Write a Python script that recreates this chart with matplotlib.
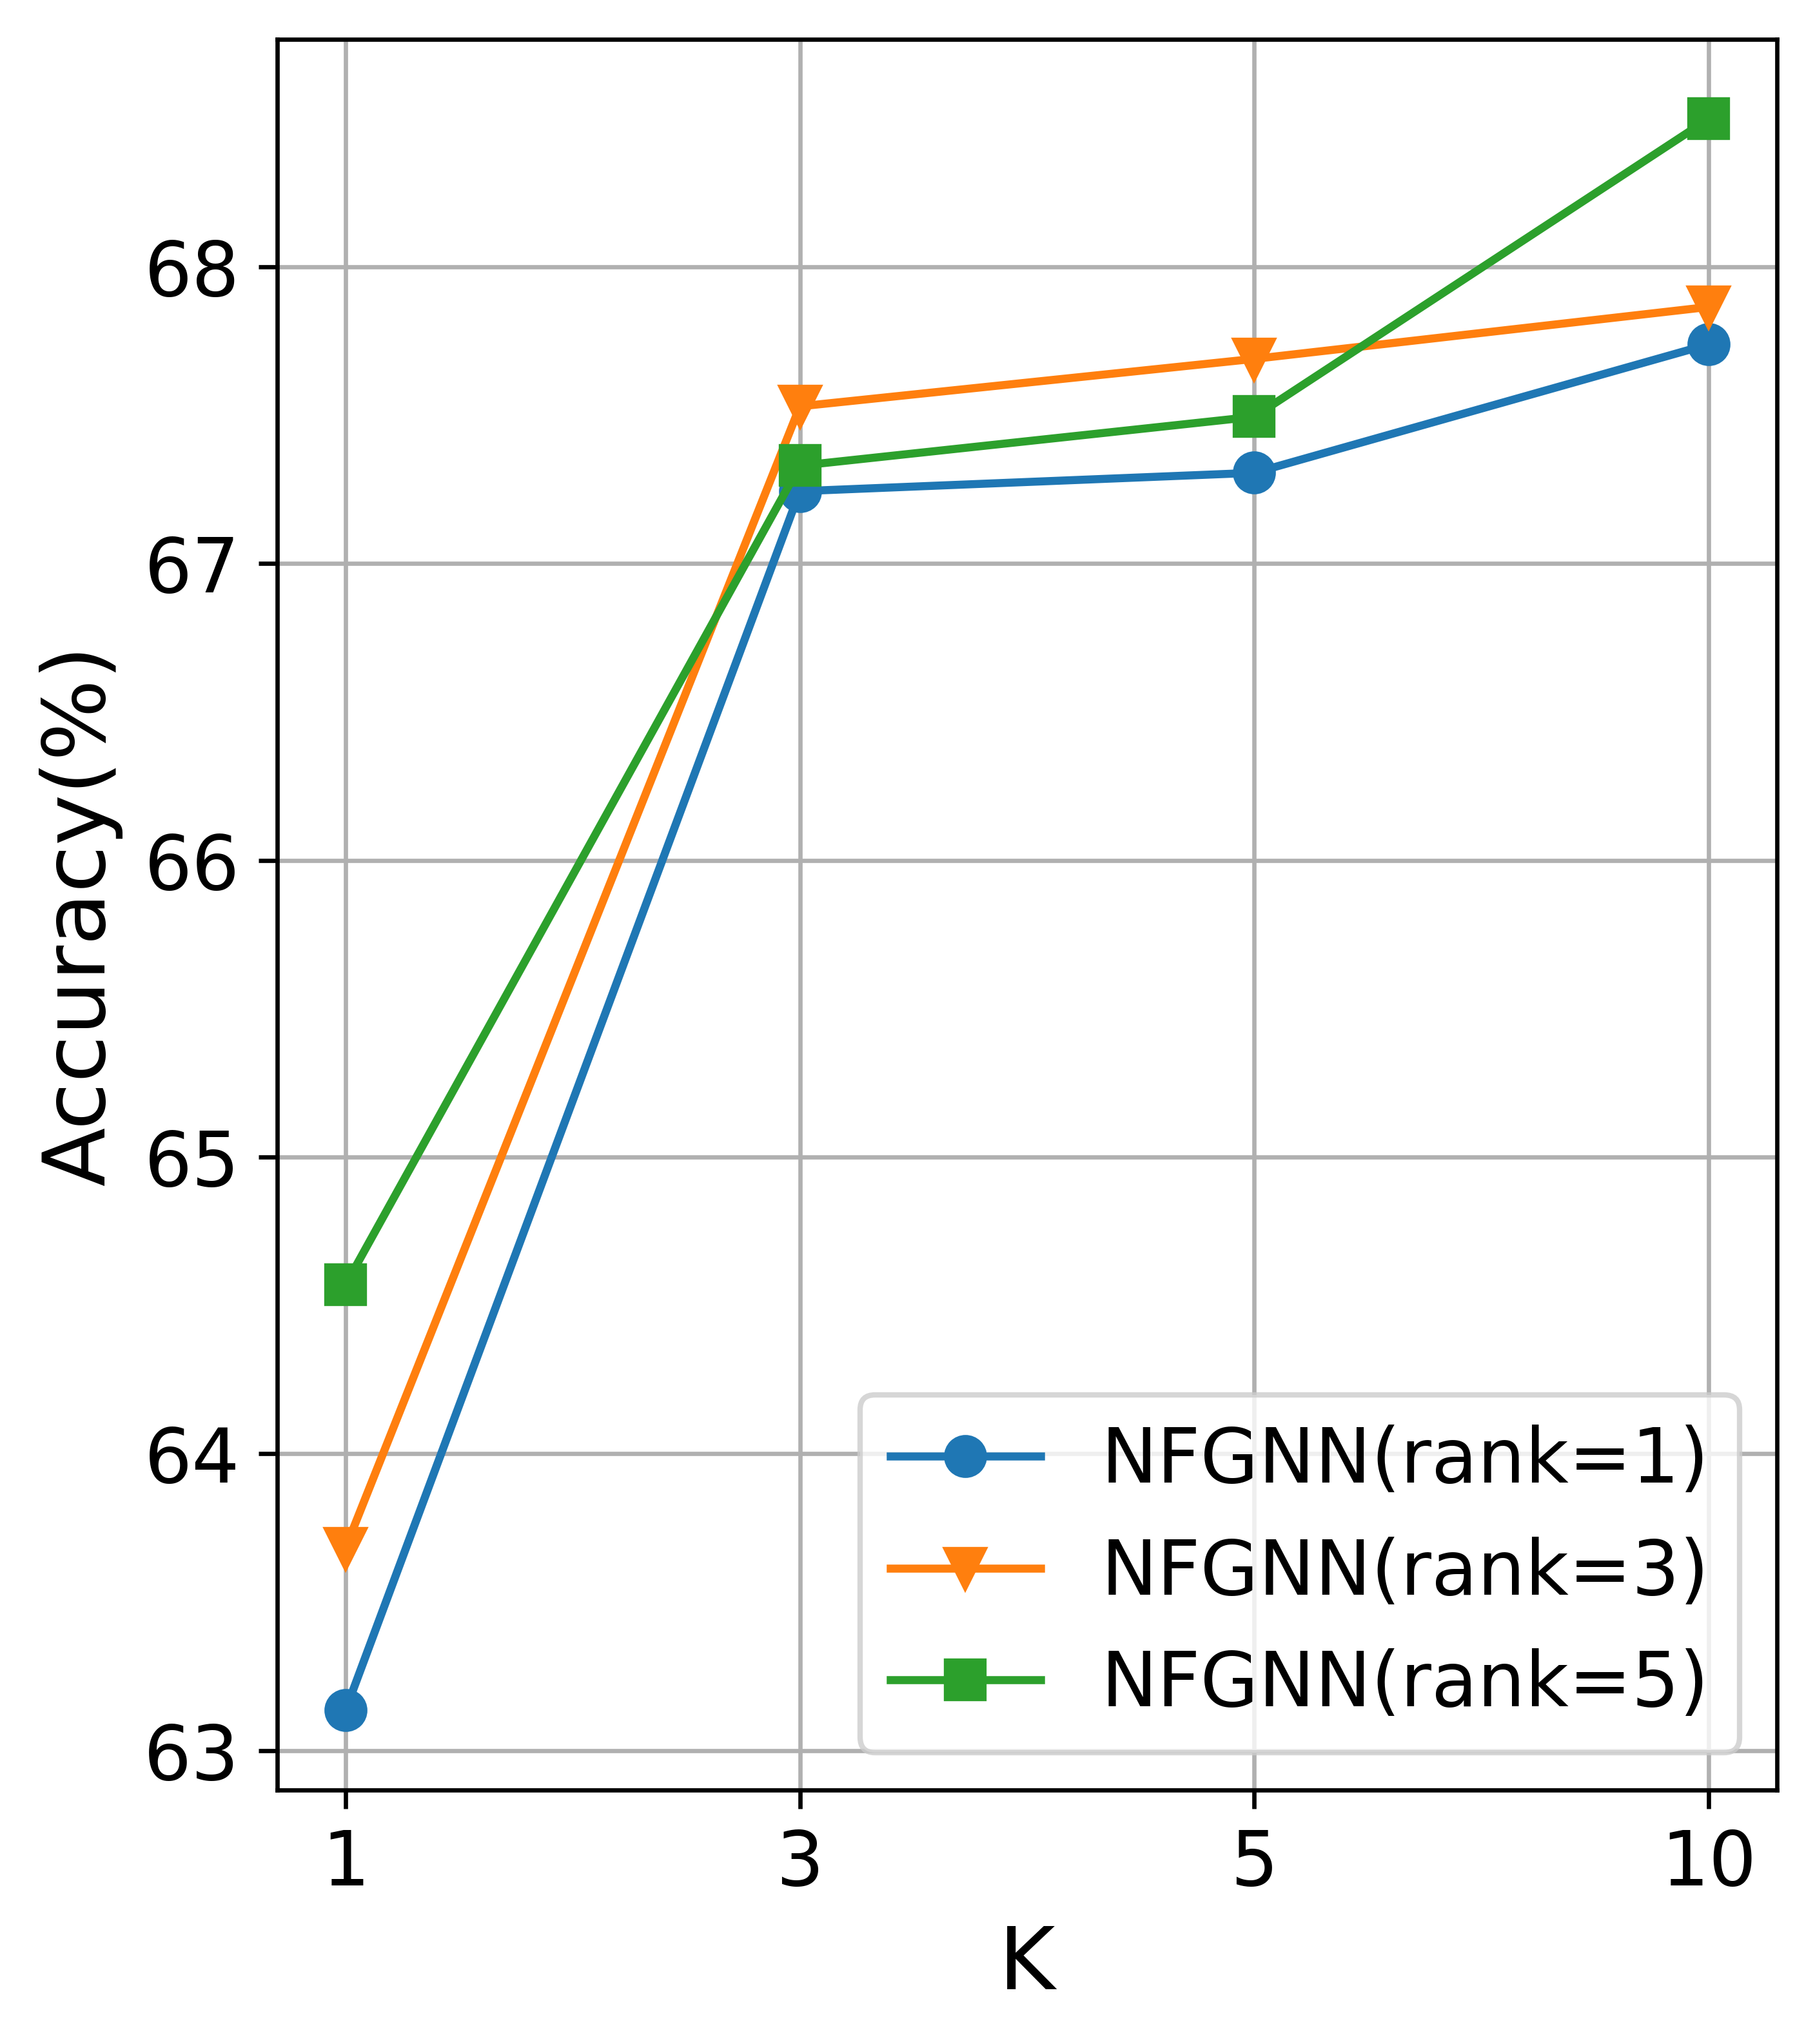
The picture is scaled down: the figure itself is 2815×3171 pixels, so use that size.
import matplotlib
matplotlib.use("Agg")
import matplotlib.pyplot as plt

# K values (categorical positions on x axis)
k_labels = ["1", "3", "5", "10"]

# Accuracy (%) per rank setting
acc_rank1 = [63.135, 67.244, 67.306, 67.739]
acc_rank3 = [63.682, 67.530, 67.690, 67.865]
acc_rank5 = [64.569, 67.330, 67.495, 68.499]

x = list(range(len(k_labels)))

fig = plt.figure(figsize=(2815 / 600, 3171 / 600))
ax = fig.add_subplot(111)
fig.subplots_adjust(left=0.1528, right=0.979, bottom=0.1243, top=0.9808)

ax.plot(x, acc_rank1, marker="o", markersize=7, label="NFGNN(rank=1)")
ax.plot(x, acc_rank3, marker="v", markersize=7, label="NFGNN(rank=3)")
ax.plot(x, acc_rank5, marker="s", markersize=7, label="NFGNN(rank=5)")

ax.set_xticks(x)
ax.set_xticklabels(k_labels)
ax.tick_params(labelsize=14)
ax.set_xlabel("K", fontsize=16)
ax.set_ylabel("Accuracy(%)", fontsize=16)
ax.grid(True)
ax.legend(fontsize=14, loc="lower right")

fig.savefig("out.png", dpi=600)
